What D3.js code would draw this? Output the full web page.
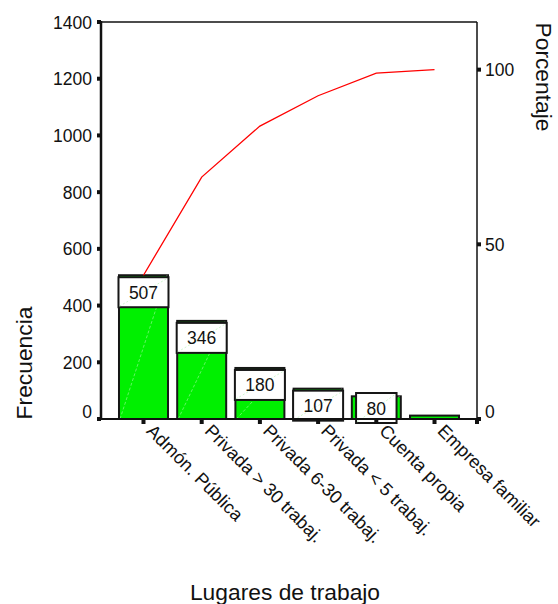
<!DOCTYPE html>
<html><head><meta charset="utf-8">
<script src="https://cdn.jsdelivr.net/npm/d3@7"></script>
<style>body{margin:0;background:#fff}svg{display:block}text{font-family:"Liberation Sans",Arial,sans-serif;fill:#111}</style>
</head><body><svg id="c" width="558" height="604"></svg>
<script>
const categories = ["Admón. Pública","Privada > 30 trabaj.","Privada 6-30 trabaj.","Privada < 5 trabaj.","Cuenta propia","Empresa familiar"];
const counts = [507,346,180,107,80,12];
const showLabel = [true,true,true,true,true,false];
const leftTicks = [0,200,400,600,800,1000,1200,1400];
const rightTicks = [0,50,100];
const xTitle = "Lugares de trabajo";
const yTitle = "Frecuencia";
const y2Title = "Porcentaje";

const svg = d3.select("#c");
const L = 101, R = 477, T = 22, B = 419;
const total = d3.sum(counts);
const cum = d3.cumsum(counts);

const x = d3.scalePoint().domain(categories).range([L, R]).padding(0.73);
const y = d3.scaleLinear().domain([0, 1400]).range([B, T]);
const yp = d3.scaleLinear().domain([0, 100]).range([y(0), y(total)]);
const bw = 49;
const green = "#00f000";

// bars
const g = svg.append("g");
categories.forEach((c, i) => {
  const cx = x(c), top = y(counts[i]);
  g.append("rect").attr("x", cx - bw/2).attr("y", top).attr("width", bw).attr("height", B - top)
    .attr("fill", green).attr("stroke", "#161616").attr("stroke-width", 2);
  if (B - top > 20) {
    g.append("line").attr("x1", cx - bw/2 + 1).attr("y1", B).attr("x2", cx + bw/2 - 1).attr("y2", top)
      .attr("stroke", "rgba(255,255,255,0.55)").attr("stroke-width", 0.7).attr("stroke-dasharray", "3,2");
  }
});

// cumulative line
svg.append("path").datum(cum)
  .attr("d", d3.line().x((d, i) => x(categories[i])).y(d => y(d)))
  .attr("fill", "none").attr("stroke", "#ff0000").attr("stroke-width", 1.3);

// value boxes
categories.forEach((c, i) => {
  if (!showLabel[i]) return;
  const cx = x(c), top = y(counts[i]);
  const t = svg.append("text").attr("x", cx).attr("text-anchor", "middle").attr("font-size", 17.5).text(counts[i]);
  const w = Math.min(t.node().getComputedTextLength() + 21, bw + 1);
  const h = 30;
  const by = Math.min(top + 2, B + 4 - h);
  svg.insert("rect", () => t.node()).attr("x", cx - w/2).attr("y", by).attr("width", w).attr("height", h)
    .attr("fill", "#fff").attr("stroke", "#161616").attr("stroke-width", 2);
  svg.insert("line", () => t.node()).attr("x1", cx - w/2 + 1).attr("y1", by + h - 1).attr("x2", cx + w/2 - 1).attr("y2", by + 1)
    .attr("stroke", "#b8f5b8").attr("stroke-width", 0.7).attr("stroke-dasharray", "2,2");
  t.attr("y", by + h/2 + 6.5);
});

// frame / axes lines
svg.append("line").attr("x1", L).attr("x2", R).attr("y1", T).attr("y2", T).attr("stroke", "#111").attr("stroke-width", 1.5);
svg.append("line").attr("x1", R).attr("x2", R).attr("y1", T).attr("y2", B).attr("stroke", "#111").attr("stroke-width", 1.5);
svg.append("line").attr("x1", L).attr("x2", R).attr("y1", B).attr("y2", B).attr("stroke", "#111").attr("stroke-width", 2);
svg.append("line").attr("x1", L).attr("x2", L).attr("y1", T - 1).attr("y2", B + 1).attr("stroke", "#111").attr("stroke-width", 2.5);

// left ticks
leftTicks.forEach(v => {
  const yy = y(v);
  svg.append("rect").attr("x", L - 4).attr("y", yy - 2).attr("width", 4).attr("height", 4).attr("fill", "#111");
  svg.append("text").attr("x", 92).attr("y", (v === 0 ? yy - 8 : yy) + 6.5).attr("text-anchor", "end").attr("font-size", 17.5).text(v);
});
// right ticks
rightTicks.forEach(v => {
  const yy = yp(v);
  svg.append("rect").attr("x", R).attr("y", yy - 2).attr("width", 4).attr("height", 4).attr("fill", "#111");
  svg.append("text").attr("x", 485).attr("y", (v === 0 ? yy - 8 : yy) + 6.5).attr("text-anchor", "start").attr("font-size", 17.5).text(v);
});
// bottom ticks + labels
categories.forEach(c => {
  const cx = x(c);
  svg.append("rect").attr("x", cx - 2).attr("y", B + 1).attr("width", 4).attr("height", 4).attr("fill", "#111");
  svg.append("text").attr("transform", `translate(${cx + 2},${B + 13}) rotate(45)`).attr("text-anchor", "start")
    .attr("font-size", 18.2).text(c);
});
svg.append("rect").attr("x", R - 2).attr("y", B + 1).attr("width", 4).attr("height", 4).attr("fill", "#111");

// titles
svg.append("text").attr("transform", `translate(32,363) rotate(-90)`).attr("text-anchor", "middle").attr("font-size", 22.8).text(yTitle);
svg.append("text").attr("transform", `translate(536,77) rotate(90)`).attr("text-anchor", "middle").attr("font-size", 22.8).text(y2Title);
svg.append("text").attr("x", 285).attr("y", 600).attr("text-anchor", "middle").attr("font-size", 22.8).text(xTitle);
</script></body></html>
